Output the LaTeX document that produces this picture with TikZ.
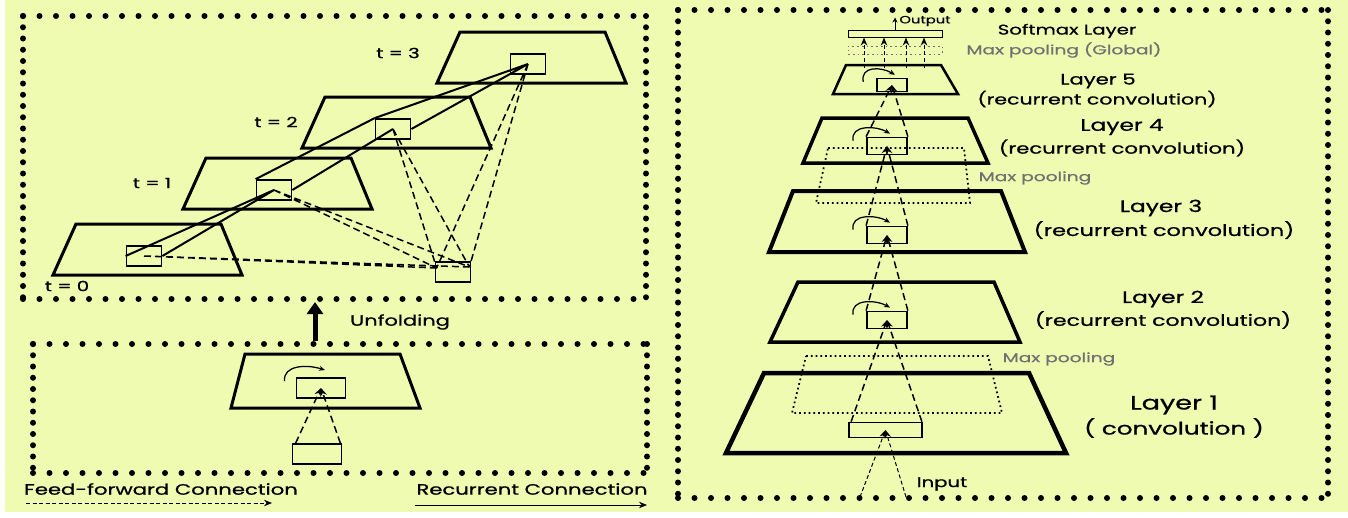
\documentclass[tikz,border=0pt]{standalone}
\usepackage{fontspec}
\setmainfont{Poppins}[FakeBold=0.7]
\usetikzlibrary{arrows.meta,calc}
\definecolor{paper}{RGB}{240,251,178}
\definecolor{poolgray}{RGB}{112,112,112}

\begin{document}
\begin{tikzpicture}[x=0.2mm, y=-0.2mm,
  hdots/.style={line width=1.2mm, line cap=round, dash pattern=on 0pt off 3.3mm},
  vdots/.style={line width=1.2mm, line cap=round, dash pattern=on 0pt off 2.25mm},
  trap/.style={line width=0.6mm, line join=miter},
  pool/.style={line width=0.35mm, dash pattern=on 0.35mm off 0.6mm},
  cell/.style={draw, line width=0.35mm, inner sep=0pt, minimum width=7mm, minimum height=4mm},
  rec/.style={line width=0.4mm},
  ff/.style={line width=0.3mm, dash pattern=on 1.4mm off 0.8mm},
  ffthin/.style={line width=0.2mm, dash pattern=on 0.8mm off 0.5mm},
  tip/.style={-{Stealth[length=1.6mm, width=1.3mm]}},
  loopar/.style={line width=0.25mm, -{Stealth[length=1.2mm, width=1mm]}},
  lab/.style={font=\fontsize{9.5}{10}\selectfont, xscale=1.4, inner sep=0pt},
  desc/.style={lab, font=\fontsize{8.6}{10}\selectfont},
  small lab/.style={lab, font=\fontsize{8}{9}\selectfont},
  gray lab/.style={lab, font=\fontsize{7.3}{8}\selectfont, xscale=1.45/1.4, text=poolgray},
]
\fill[white] (0,0) rectangle (1348,517);
\fill[paper] (5,0) rectangle (1348,512);
\useasboundingbox (0,0) rectangle (1348,517);

% unfolded network, t = 0 ... 3
\draw[hdots] (23,16) -- (646,16) (23,299) -- (646,299);
\draw[vdots] (23,16) -- (23,299) (646,16) -- (646,299);
\foreach \t/\x/\y in {0/76/224, 1/206/158, 2/325/97, 3/460/32} {
  \draw[trap] (\x,\y) -- ++(145,0) -- ++(21,51) -- ++(-189,0) -- cycle;
  \node[cell] (t\t) at (\x+68,\y+32) {};
}
\node[cell] (ex) at (453,272) {};
\node[small lab] (lt0) at (67,286) {t = 0};
\node[small lab] (lt1) at (152,183) {t = 1};
\node[small lab] (lt2) at (276,122) {t = 2};
\node[small lab] (lt3) at (398,53) {t = 3};

\draw[rec] (t0.west) -- (t1.center) (t0.east) -- (t1.center);
\draw[rec] (t1.north west) -- (t2.north west) (t1.east) -- (t2.center);
\draw[rec] (t2.north west) -- (t3.center) (t2.east) -- (t3.center);
\coordinate (exl) at ($(ex.west)+(2,-4)$);
\coordinate (exr) at ($(ex.east)+(-2,-5)$);
\foreach \t in {0,...,3}
  \draw[ff] (t\t.center) -- (exl) (t\t.center) -- (exr);

% folded network
\coordinate (unf0) at (315,341);
\coordinate (unf1) at (315,302);
\draw[line width=1mm, -{Triangle[length=2.4mm, width=3.2mm]}] (unf0) -- (unf1);
\node[lab, font=\fontsize{8.5}{9}\selectfont] (unf) at (400,322) {Unfolding};

\draw[hdots] (33,344) -- (647,344) (33,473) -- (647,473);
\draw[vdots] (33,344) -- (33,473) (647,344) -- (647,473);
\draw[trap] (245,354) -- (400,354) -- (420,408) -- (231,408) -- cycle;
\node[cell, minimum width=9.8mm] (cur) at (321,388) {};
\node[cell, minimum width=9.8mm] (inp) at (317,454) {};
\draw[ff, tip] ($(inp.north west)+(4,0)$) -- (cur.center);
\draw[ff, tip] ($(inp.north east)+(-2,0)$) -- (cur.center);
\draw[loopar] ($(cur.north west)+(-11,4)$) .. controls +(-2,-16) and +(-18,-6) .. ($(cur.north)+(4,-7)$);

% legend
\node[desc] (fflab) at (161,489) {Feed-forward Connection};
\node[desc] (rclab) at (532,489) {Recurrent Connection};
\coordinate (ff0) at (26,503);
\coordinate (ff1) at (272,503);
\coordinate (rc0) at (415,505);
\coordinate (rc1) at (647,505);
\draw[ffthin, tip] (ff0) -- (ff1);
\draw[line width=0.2mm, tip] (rc0) -- (rc1);

% RCNN stack
\draw[hdots] (678,10) -- (1328,10) (678,498) -- (1328,498);
\draw[vdots] (678,10) -- (678,498) (1328,10) -- (1328,498);

\node[draw, line width=0.2mm, inner sep=0pt, minimum width=18.8mm, minimum height=1.4mm] (sm) at (895,33.5) {};
\node[draw=poolgray, pool, line width=0.2mm, inner sep=0pt, minimum width=18.8mm, minimum height=1.6mm] (gp) at (895,50) {};
\foreach \x in {864,884,906,924}
  \draw[ffthin, tip] (\x,68) -- (\x,68 |- sm.south);
\draw[line width=0.2mm, -{Stealth[length=1mm, width=1mm]}] (sm.north) -- ++(0,-12) coordinate (outp);
\node[lab, font=\fontsize{6}{7}\selectfont] (out) at (925,21) {Output};
\node[lab, font=\fontsize{8}{9}\selectfont] (smlab) at (1067,31) {Softmax Layer};
\node[gray lab] (gplab) at (1064,50) {Max pooling (Global)};

\draw[trap, line width=0.5mm] (846,65) -- (941,65) -- (958,94) -- (833,94) -- cycle;
\node[cell, line width=0.3mm, minimum width=6mm, minimum height=2.6mm] (c5) at (892,85) {};
\node[lab, font=\fontsize{8.6}{9}\selectfont] (l5) at (1098,81) {Layer 5};
\node[desc, font=\fontsize{8.35}{9}\selectfont] (l5b) at (1097,99) {(recurrent convolution)};

\draw[trap, line width=0.7mm] (822,118) -- (968,118) -- (988,163) -- (803,163) -- cycle;
\node[cell, minimum width=8mm, minimum height=3.4mm] (c4) at (887,146) {};
\node[lab] (l4) at (1122,127) {Layer 4};
\node[desc] (l4b) at (1122,148) {(recurrent convolution)};

\draw[pool] (828,148) -- (964,148) -- (970,203) -- (816,203) -- cycle;
\node[gray lab] (mp2) at (1035,178) {Max pooling};

\draw[trap, line width=0.8mm] (793,191) -- (1001,191) -- (1025,252) -- (769,252) -- cycle;
\node[cell, minimum width=8mm, minimum height=3.4mm] (c3) at (887,235) {};
\node[lab] (l3) at (1161,208) {Layer 3};
\node[desc, font=\fontsize{9.1}{10}\selectfont] (l3b) at (1164,230) {(recurrent convolution)};

\draw[trap, line width=0.7mm] (798,282) -- (994,282) -- (1020,342) -- (770,342) -- cycle;
\node[cell, minimum width=8mm, minimum height=3.4mm] (c2) at (887,320) {};
\node[lab] (l2) at (1163,299) {Layer 2};
\node[desc, font=\fontsize{8.95}{10}\selectfont] (l2b) at (1163,320) {(recurrent convolution)};

\draw[pool] (806,356) -- (988,356) -- (1002,413) -- (792,413) -- cycle;
\node[gray lab] (mp1) at (1059,359) {Max pooling};

\draw[trap, line width=0.9mm] (764,373) -- (1029,373) -- (1066,453) -- (726,453) -- cycle;
\node[cell, minimum width=14.6mm, minimum height=3mm] (c1) at (885.5,430) {};
\node[lab, font=\fontsize{11}{12}\selectfont] (l1) at (1174,405) {Layer 1};
\node[lab, font=\fontsize{10}{11}\selectfont] (l1b) at (1174,428) {( convolution )};

\coordinate (in0) at (860,497);
\coordinate (in1) at (906,497);
\node[lab, font=\fontsize{8}{9}\selectfont] (inlab) at (942,484) {Input};
\draw[ffthin, tip] (in0) -- (c1.center);
\draw[ffthin, tip] (in1) -- (c1.center);
\draw[ff, tip] ($(c1.north west)+(3,0)$) -- (c2.center);
\draw[ff, tip] ($(c1.north east)+(-1,0)$) -- (c2.center);
\foreach \a/\b in {c2/c3, c3/c4, c4/c5} {
  \draw[ff, tip] (\a.north west) -- (\b.center);
  \draw[ff, tip] (\a.north east) -- (\b.center);
}
\foreach \c in {c2,c3,c4,c5}
  \draw[loopar] ($(\c.north west)+(-13,4)$) .. controls +(-3,-16) and +(-14,-8) .. ($(\c.north)+(3,-3)$);
\end{tikzpicture}
\end{document}
